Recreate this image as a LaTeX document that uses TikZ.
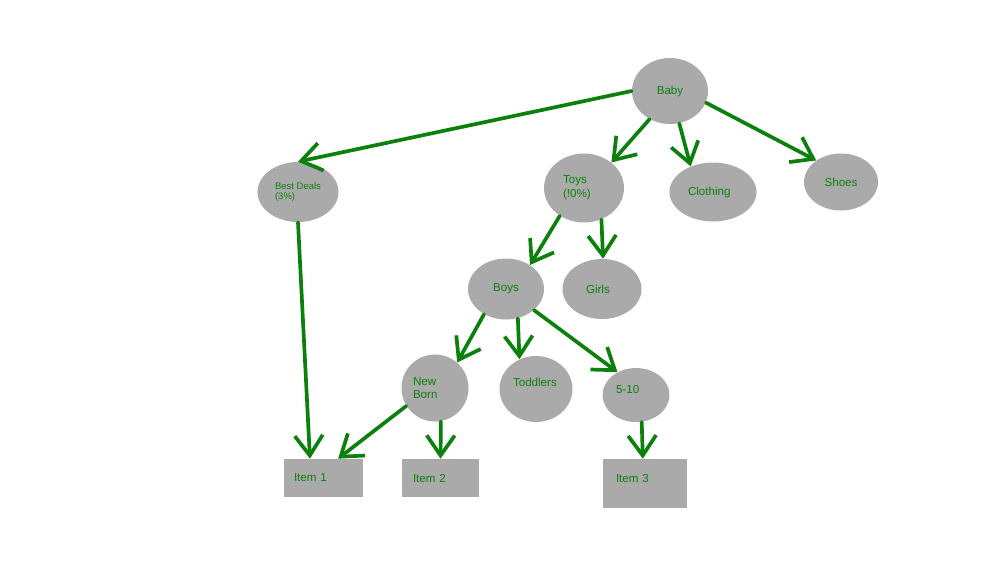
\documentclass[tikz,border=0pt]{standalone}
\usepackage{fontspec}
\setmainfont{Liberation Sans}
\usetikzlibrary{shapes,arrows.meta}
\definecolor{myGreen}{RGB}{12,128,12}
\definecolor{myGray}{RGB}{170,170,170}

\begin{document}
\begin{tikzpicture}[%
	x=0.02cm, y=-0.02cm,
	every node/.style={
		font=\fontsize{6.6pt}{7.9pt}\selectfont,
		text=myGreen,
		fill=myGray,
		inner sep=0pt,
	},
	oval/.style={ellipse},
	box/.style={rectangle, align=left},
	lift/.style={text height=5.4pt, text depth=#1},
	link/.style={
		draw=myGreen, line width=2.1pt, line cap=round, line join=round,
		-{Straight Barb[length=0.4cm,width=0.56cm]},
	},
	]
	\useasboundingbox (0,0) rectangle (1000,562);
	
	% draw the ovals
	\node[oval, minimum width=1.52cm, minimum height=1.32cm] (baby) at (670,91) {Baby};
	\node[oval, minimum width=1.62cm, minimum height=1.2cm, align=left,
		font=\fontsize{5.4pt}{6.2pt}\selectfont] (deals) at (298,192) {Best Deals\\(3\%)};
	\node[oval, minimum width=1.6cm, minimum height=1.38cm, text width=0.84cm, align=left] (toys) at (584,188) {Toys\\(!0\%)};
	\node[oval, minimum width=1.74cm, minimum height=1.18cm, text width=1cm, align=left] (clothing) at (713,192) {Clothing};
	\node[oval, minimum width=1.48cm, minimum height=1.14cm] (shoes) at (841,182) {Shoes};
	
	\node[oval, minimum width=1.52cm, minimum height=1.22cm] (boys) at (506,289) {Boys};
	\node[oval, minimum width=1.58cm, minimum height=1.2cm, text width=0.64cm, align=left] (girls) at (602,289) {Girls};
	
	\node[oval, minimum width=1.34cm, minimum height=1.34cm, text width=0.88cm, align=left] (newborn) at (435,388) {New\\Born};
	\node[oval, minimum width=1.46cm, minimum height=1.32cm, text width=0.92cm, align=left, lift=8.8pt] (toddlers) at (536,389) {Toddlers};
	\node[oval, minimum width=1.34cm, minimum height=1.08cm, text width=0.8cm, align=left, lift=7.6pt] (fiveten) at (636,395) {5-10};
	
	% draw the boxes
	\node[box, minimum width=1.58cm, minimum height=0.76cm, text width=1.18cm] (item1) at (323.5,478) {Item 1};
	\node[box, minimum width=1.54cm, minimum height=0.76cm, text width=1.1cm] (item2) at (440.5,478) {Item 2};
	\node[box, minimum width=1.68cm, minimum height=0.98cm, text width=1.16cm, lift=7.1pt] (item3) at (645,483.5) {Item 3};
	
	% draw the arrows
	\draw[link] (baby.west) -- (deals.north);
	\draw[link] (baby.234) -- (toys.43);
	\draw[link] (baby.286) -- (clothing.131);
	\draw[link] (baby.342) -- (shoes.139);
	
	\draw[link] (toys.229) -- (boys.45);
	\draw[link] (toys.299) -- (girls.88);
	
	\draw[link] (boys.229) -- (newborn.49);
	\draw[link] (boys.292) -- (toddlers.119);
	\draw[link] (boys.323) -- (fiveten.129);
	
	\draw[link] (deals.south) -- (item1.125);
	\draw[link] (newborn.212) -- (item1.53);
	\draw[link] (newborn.280) -- (item2.north);
	\draw[link] (fiveten.282) -- (item3.95);
\end{tikzpicture}
\end{document}
